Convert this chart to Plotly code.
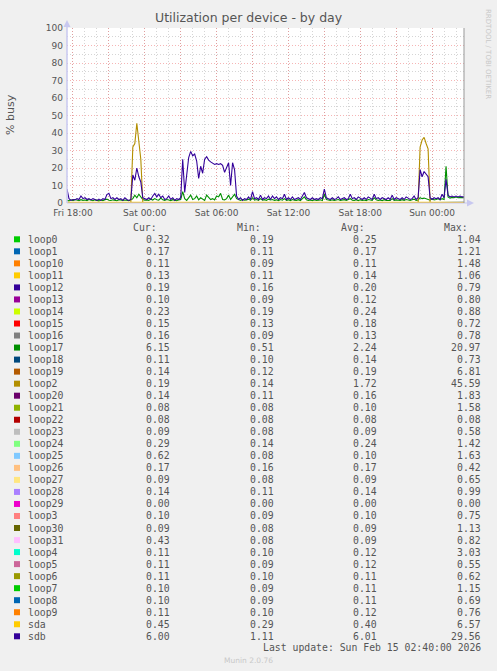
import pandas as pd
import plotly.graph_objects as go

# time axes (munin day graph, last update Sun Feb 15 02:40)
t_start = "2026-02-13 17:30"
t_end = "2026-02-15 02:40"
t_fine = pd.date_range(t_start, periods=200, freq="10min")
t_coarse = pd.date_range(t_start, t_end, periods=12)

x_tickvals = ["2026-02-13 18:00", "2026-02-13 21:00", "2026-02-14 00:00", "2026-02-14 03:00",
              "2026-02-14 06:00", "2026-02-14 09:00", "2026-02-14 12:00", "2026-02-14 15:00",
              "2026-02-14 18:00", "2026-02-14 21:00", "2026-02-15 00:00"]
x_ticktext = ["Fri 18:00", "", "Sat 00:00", "", "Sat 06:00", "", "Sat 12:00", "",
              "Sat 18:00", "", "Sun 00:00"]

names = ["loop0", "loop1", "loop10", "loop11", "loop12", "loop13", "loop14", "loop15",
         "loop16", "loop17", "loop18", "loop19", "loop2", "loop20", "loop21", "loop22",
         "loop23", "loop24", "loop25", "loop26", "loop27", "loop28", "loop29", "loop3",
         "loop30", "loop31", "loop4", "loop5", "loop6", "loop7", "loop8", "loop9", "sda", "sdb"]
colors = ["#00CC00", "#0066B3", "#FF8000", "#FFCC00", "#330099", "#990099", "#CCFF00", "#FF0000",
          "#808080", "#008F00", "#00487D", "#B35A00", "#B38F00", "#6B006B", "#8FB300", "#B30000",
          "#BEBEBE", "#80FF80", "#80C9FF", "#FFC080", "#FFE680", "#AA80FF", "#EE00CC", "#FF8080",
          "#666600", "#FFBFFF", "#00FFCC", "#CC6699", "#999900", "#00CC00", "#0066B3", "#FF8000",
          "#FFCC00", "#330099"]
cur_vals = [0.32, 0.17, 0.11, 0.13, 0.19, 0.10, 0.23, 0.15, 0.16, 6.15, 0.11, 0.14, 0.19, 0.14,
            0.08, 0.08, 0.09, 0.29, 0.62, 0.17, 0.09, 0.14, 0.00, 0.10, 0.09, 0.43, 0.11, 0.11,
            0.11, 0.10, 0.10, 0.11, 0.45, 6.00]
min_vals = [0.19, 0.11, 0.09, 0.11, 0.16, 0.09, 0.19, 0.13, 0.09, 0.51, 0.10, 0.12, 0.14, 0.11,
            0.08, 0.08, 0.08, 0.14, 0.08, 0.16, 0.08, 0.11, 0.00, 0.09, 0.08, 0.08, 0.10, 0.09,
            0.10, 0.09, 0.09, 0.10, 0.29, 1.11]
avg_vals = [0.25, 0.17, 0.11, 0.14, 0.20, 0.12, 0.24, 0.18, 0.13, 2.24, 0.14, 0.19, 1.72, 0.16,
            0.10, 0.08, 0.09, 0.24, 0.10, 0.17, 0.09, 0.14, 0.00, 0.10, 0.09, 0.09, 0.12, 0.12,
            0.11, 0.11, 0.11, 0.12, 0.40, 6.01]
max_vals = [1.04, 1.21, 1.48, 1.06, 0.79, 0.80, 0.88, 0.72, 0.78, 20.97, 0.73, 6.81, 45.59, 1.83,
            1.58, 0.08, 0.58, 1.42, 1.63, 0.42, 0.65, 0.99, 0.00, 0.75, 1.13, 0.82, 3.03, 0.55,
            0.62, 1.15, 0.69, 0.76, 6.57, 29.56]

# busy series, 10 minute samples
sdb = [8, 2.5, 1.5, 2, 1.8, 2.5, 2, 4, 2.5, 3,
       2, 2.5, 1.8, 2.5, 2, 1.5, 2.2, 1.5, 2.5, 2,
       4.8, 5.5, 2.5, 3, 2, 3, 2, 2.5, 1.5, 3,
       2, 1.5, 2, 16, 13, 20, 15, 12, 3, 2.5,
       2, 3, 2, 4, 5.5, 3.5, 5, 3, 4, 2,
       2.5, 4, 2, 3, 1.5, 2.5, 2, 3, 25, 6,
       17, 26, 29.5, 27, 28, 24, 14, 21, 17, 25,
       26.5, 24.5, 23.5, 22.5, 22, 22.5, 22, 22.5, 21.5, 17.5,
       20, 23, 10, 23, 19, 4, 2, 3, 1.5, 2.5,
       2, 3.5, 2, 6.5, 2.5, 3, 2, 4.5, 2, 3,
       2.5, 4, 2, 4, 2.5, 3.5, 2, 3, 2.5, 5,
       2, 3, 2, 3.5, 2, 2.5, 3, 2, 4, 6,
       3, 2.5, 2, 3, 2, 2.5, 2, 3, 2.5, 8,
       3, 2.5, 2, 3, 2, 2.5, 3.5, 2, 2.5, 3,
       2, 2.5, 5, 2.5, 3, 2, 3.5, 2.5, 2, 3,
       2, 3.5, 2.5, 2, 5, 2.5, 3, 2, 3, 2.5,
       2, 3, 2, 4.5, 2, 3, 2.5, 2, 3, 2,
       3.5, 2.5, 2, 2.5, 4, 2, 3, 19, 15, 18,
       16.5, 15, 3, 2, 3, 2.5, 3, 2, 5, 3,
       13.5, 4.5, 3.5, 4, 3.5, 4, 3.5, 4, 3.5, 3.5]

loop2 = [0.18, 0.16, 0.15, 0.17, 0.15, 0.16, 0.14, 0.17, 0.15, 0.16,
         0.15, 0.17, 0.16, 0.14, 0.15, 0.16, 0.15, 0.17, 0.14, 0.16,
         0.16, 0.15, 0.17, 0.15, 0.14, 0.16, 0.15, 0.17, 0.16, 0.15,
         0.14, 0.16, 0.2, 32, 34, 45.59, 33, 25, 0.3, 0.18,
         0.16, 0.15, 0.17, 0.15, 0.16, 0.14, 0.17, 0.15, 0.16, 0.15,
         0.17, 0.16, 0.14, 0.15, 0.16, 0.15, 0.17, 0.14, 0.16, 0.15,
         0.16, 0.15, 0.17, 0.15, 0.14, 0.16, 0.15, 0.17, 0.16, 0.15,
         0.14, 0.16, 0.15, 0.17, 0.15, 0.16, 0.14, 0.17, 0.15, 0.16,
         0.15, 0.17, 0.16, 0.14, 0.15, 0.16, 0.15, 0.17, 0.14, 0.16,
         0.16, 0.15, 0.17, 0.15, 0.14, 0.16, 0.15, 0.17, 0.16, 0.15,
         0.14, 0.16, 0.15, 0.17, 0.15, 0.16, 0.14, 0.17, 0.15, 0.16,
         0.15, 0.17, 0.16, 0.14, 0.15, 0.16, 0.15, 0.17, 0.14, 0.16,
         0.16, 0.15, 0.17, 0.15, 0.14, 0.16, 0.15, 0.17, 0.16, 0.15,
         0.14, 0.16, 0.15, 0.17, 0.15, 0.16, 0.14, 0.17, 0.15, 0.16,
         0.15, 0.17, 0.16, 0.14, 0.15, 0.16, 0.15, 0.17, 0.14, 0.16,
         0.16, 0.15, 0.17, 0.15, 0.14, 0.16, 0.15, 0.17, 0.16, 0.15,
         0.14, 0.16, 0.15, 0.17, 0.15, 0.16, 0.14, 0.17, 0.15, 0.16,
         0.16, 0.15, 0.17, 0.15, 0.14, 0.16, 0.2, 32, 36, 37.5,
         34, 31, 0.3, 0.2, 0.18, 0.16, 0.17, 0.15, 0.19, 0.17,
         0.18, 0.16, 0.17, 0.19, 0.18, 0.2, 0.17, 0.19, 0.18, 0.19]

loop17 = [1.5, 1.2, 1.8, 1.4, 2.0, 1.6, 1.3, 1.9, 1.5, 1.7,
          1.4, 2.0, 1.6, 1.3, 1.8, 1.5, 1.2, 1.7, 1.4, 1.9,
          2.2, 1.6, 1.4, 1.8, 1.5, 1.3, 1.9, 1.6, 1.4, 1.7,
          1.5, 1.3, 1.8, 2.5, 4.5, 3.0, 5.0, 3.5, 2.0, 1.6,
          1.8, 1.5, 2.2, 1.7, 2.5, 1.9, 1.6, 2.8, 1.8, 1.5,
          2.0, 1.7, 1.4, 1.9, 1.6, 1.3, 1.8, 2.0, 6.5, 2.5,
          1.5, 3.0, 4.5, 2.0, 2.5, 4.0, 1.8, 3.0, 2.2, 1.5,
          4.5, 3.5, 2.0, 2.5, 1.8, 4.0, 3.5, 5.5, 2.0, 1.8,
          2.5, 4.5, 2.0, 3.5, 5.0, 2.5, 1.8, 1.5, 2.0, 1.6,
          1.8, 2.2, 1.5, 3.0, 1.7, 2.0, 1.5, 2.5, 1.6, 1.9,
          1.5, 2.2, 1.7, 2.0, 1.5, 1.8, 1.4, 2.0, 1.6, 2.5,
          1.5, 1.8, 1.4, 2.0, 1.6, 1.5, 1.9, 1.4, 2.5, 3.5,
          1.8, 1.5, 1.7, 1.4, 1.9, 1.5, 1.6, 1.8, 1.4, 5.0,
          2.0, 1.6, 1.4, 1.8, 1.5, 1.7, 2.0, 1.5, 1.6, 1.9,
          1.5, 1.8, 2.5, 1.6, 1.5, 1.9, 1.4, 1.8, 1.5, 1.7,
          1.4, 2.0, 1.6, 1.5, 3.0, 1.8, 1.5, 1.7, 1.4, 1.9,
          1.5, 1.6, 1.4, 2.5, 1.5, 1.8, 1.6, 1.4, 1.9, 1.5,
          2.0, 1.6, 1.4, 1.8, 2.2, 1.5, 1.7, 3.0, 2.5, 2.8,
          2.5, 2.2, 1.6, 2.5, 1.8, 2.0, 2.5, 1.8, 2.5, 2.0,
          20.97, 3.5, 2.8, 3.2, 3.0, 3.4, 3.0, 3.2, 3.0, 3.0]

# quiet devices, 3 hour samples
loop0 = [0.25, 0.22, 0.24, 0.21, 0.28, 0.23, 0.26, 0.22, 0.25, 0.24, 0.27, 0.32]
loop1 = [0.17, 0.15, 0.18, 0.14, 0.19, 0.16, 0.18, 0.15, 0.17, 0.16, 0.18, 0.17]
loop10 = [0.11, 0.10, 0.12, 0.10, 0.11, 0.10, 0.12, 0.11, 0.10, 0.11, 0.12, 0.11]
loop11 = [0.14, 0.13, 0.15, 0.12, 0.14, 0.13, 0.15, 0.14, 0.13, 0.14, 0.15, 0.13]
loop12 = [0.20, 0.19, 0.21, 0.18, 0.20, 0.19, 0.21, 0.20, 0.19, 0.20, 0.21, 0.19]
loop13 = [0.12, 0.11, 0.13, 0.10, 0.12, 0.11, 0.13, 0.12, 0.11, 0.12, 0.13, 0.10]
loop14 = [0.24, 0.22, 0.25, 0.21, 0.24, 0.23, 0.25, 0.24, 0.22, 0.24, 0.25, 0.23]
loop15 = [0.18, 0.17, 0.19, 0.16, 0.18, 0.17, 0.19, 0.18, 0.17, 0.18, 0.19, 0.15]
loop16 = [0.13, 0.12, 0.14, 0.11, 0.13, 0.12, 0.14, 0.13, 0.12, 0.13, 0.14, 0.16]
loop18 = [0.14, 0.13, 0.15, 0.12, 0.14, 0.13, 0.15, 0.14, 0.13, 0.14, 0.15, 0.11]
loop19 = [0.18, 0.17, 0.20, 0.16, 0.19, 0.18, 0.20, 0.19, 0.18, 0.19, 0.20, 0.14]
loop20 = [0.16, 0.15, 0.17, 0.14, 0.16, 0.15, 0.17, 0.16, 0.15, 0.16, 0.17, 0.14]
loop21 = [0.10, 0.09, 0.11, 0.09, 0.10, 0.09, 0.11, 0.10, 0.09, 0.10, 0.11, 0.08]
loop22 = [0.08, 0.08, 0.08, 0.08, 0.08, 0.08, 0.08, 0.08, 0.08, 0.08, 0.08, 0.08]
loop23 = [0.09, 0.08, 0.09, 0.09, 0.10, 0.09, 0.09, 0.08, 0.09, 0.09, 0.10, 0.09]
loop24 = [0.24, 0.20, 0.25, 0.22, 0.26, 0.23, 0.25, 0.22, 0.24, 0.23, 0.26, 0.29]
loop25 = [0.10, 0.09, 0.10, 0.09, 0.11, 0.09, 0.10, 0.09, 0.10, 0.09, 0.11, 0.62]
loop26 = [0.17, 0.16, 0.17, 0.17, 0.18, 0.16, 0.17, 0.17, 0.18, 0.16, 0.17, 0.17]
loop27 = [0.09, 0.08, 0.09, 0.09, 0.10, 0.09, 0.09, 0.08, 0.09, 0.09, 0.10, 0.09]
loop28 = [0.14, 0.13, 0.15, 0.12, 0.14, 0.13, 0.15, 0.14, 0.13, 0.14, 0.15, 0.14]
loop29 = [0.00, 0.00, 0.00, 0.00, 0.00, 0.00, 0.00, 0.00, 0.00, 0.00, 0.00, 0.00]
loop3 = [0.10, 0.09, 0.11, 0.10, 0.10, 0.09, 0.11, 0.10, 0.10, 0.09, 0.11, 0.10]
loop30 = [0.09, 0.08, 0.09, 0.09, 0.10, 0.09, 0.09, 0.08, 0.09, 0.09, 0.10, 0.09]
loop31 = [0.09, 0.08, 0.09, 0.09, 0.10, 0.08, 0.09, 0.08, 0.09, 0.09, 0.10, 0.43]
loop4 = [0.12, 0.11, 0.13, 0.11, 0.12, 0.11, 0.13, 0.12, 0.11, 0.12, 0.13, 0.11]
loop5 = [0.12, 0.11, 0.13, 0.10, 0.12, 0.11, 0.13, 0.12, 0.11, 0.12, 0.13, 0.11]
loop6 = [0.11, 0.10, 0.12, 0.10, 0.11, 0.10, 0.12, 0.11, 0.10, 0.11, 0.12, 0.11]
loop7 = [0.11, 0.10, 0.12, 0.10, 0.11, 0.10, 0.12, 0.11, 0.10, 0.11, 0.12, 0.10]
loop8 = [0.11, 0.10, 0.12, 0.10, 0.11, 0.10, 0.12, 0.11, 0.10, 0.11, 0.12, 0.10]
loop9 = [0.12, 0.11, 0.13, 0.11, 0.12, 0.11, 0.13, 0.12, 0.11, 0.12, 0.13, 0.11]
sda = [0.40, 0.35, 0.42, 0.33, 0.45, 0.38, 0.44, 0.36, 0.41, 0.39, 0.43, 0.45]

series = {
    "loop0": loop0, "loop1": loop1, "loop10": loop10, "loop11": loop11, "loop12": loop12,
    "loop13": loop13, "loop14": loop14, "loop15": loop15, "loop16": loop16, "loop17": loop17,
    "loop18": loop18, "loop19": loop19, "loop2": loop2, "loop20": loop20, "loop21": loop21,
    "loop22": loop22, "loop23": loop23, "loop24": loop24, "loop25": loop25, "loop26": loop26,
    "loop27": loop27, "loop28": loop28, "loop29": loop29, "loop3": loop3, "loop30": loop30,
    "loop31": loop31, "loop4": loop4, "loop5": loop5, "loop6": loop6, "loop7": loop7,
    "loop8": loop8, "loop9": loop9, "sda": sda, "sdb": sdb,
}

# plot area in pixels
L, R, T, B = 67, 464, 28, 203
W, H = 497, 671


def px(x):
    return (x - L) / (R - L)


def py(y):
    return (B - y) / (B - T)


RED = "rgba(235,90,90,0.45)"
GREY = "rgba(150,150,150,0.40)"
TXT = "#555555"
MONO = "DejaVu Sans Mono"

fig = go.Figure()
for name, col in zip(names, colors):
    ys = series[name]
    xs = t_fine if len(ys) == len(t_fine) else t_coarse
    fig.add_trace(go.Scatter(x=xs, y=ys, mode="lines", name=name,
                             line=dict(color=col, width=1.1), hoverinfo="x+y+name"))

fig.update_layout(
    width=W, height=H,
    margin=dict(l=L, r=W - R, t=T, b=H - B),
    paper_bgcolor="#F0F0F0", plot_bgcolor="white",
    showlegend=False,
    font=dict(family="DejaVu Sans", size=9, color=TXT),
)
fig.update_xaxes(
    range=[t_start, t_end], tickmode="array", tickvals=x_tickvals, ticktext=x_ticktext,
    showgrid=True, gridcolor=RED, griddash="1px,2px", gridwidth=1,
    showline=False, zeroline=False, ticks="", ticklabelstandoff=3,
    tickfont=dict(size=9, color=TXT),
    minor=dict(dtick=3600000, tick0="2026-02-13 18:00", showgrid=True,
               gridcolor=GREY, griddash="1px,2px", gridwidth=1),
)
fig.update_yaxes(
    range=[0, 100], tickmode="linear", tick0=0, dtick=10,
    showgrid=True, gridcolor=RED, griddash="1px,2px", gridwidth=1,
    showline=False, zeroline=False, ticks="", ticklabelstandoff=3,
    tickfont=dict(size=9, color=TXT),
    minor=dict(dtick=5, showgrid=True, gridcolor=GREY, griddash="1px,2px", gridwidth=1),
)

AX = "#C8C8F0"
shapes = [
    dict(type="line", xref="paper", yref="paper", x0=0, x1=0, y0=0, y1=py(24),
         line=dict(color=AX, width=1.5)),
    dict(type="line", xref="paper", yref="paper", x0=0, x1=px(469), y0=0, y1=0,
         line=dict(color=AX, width=1)),
    dict(type="path", xref="paper", yref="paper",
         path=f"M {px(63.5)},{py(27)} L {px(67)},{py(20)} L {px(70.5)},{py(27)} Z",
         fillcolor=AX, line=dict(width=0)),
    dict(type="path", xref="paper", yref="paper",
         path=f"M {px(467)},{py(199.5)} L {px(474)},{py(203)} L {px(467)},{py(206.5)} Z",
         fillcolor=AX, line=dict(width=0)),
    dict(type="line", xref="paper", yref="paper", x0=1, x1=1, y0=0, y1=1,
         line=dict(color="#999999", width=1)),
]

ann = [
    dict(text="Utilization per device - by day", x=px(248.5), y=py(18), xref="paper", yref="paper",
         showarrow=False, font=dict(size=12.5, color=TXT), xanchor="center", yanchor="middle"),
    dict(text="% busy", x=px(10), y=py(115), xref="paper", yref="paper", textangle=-90,
         showarrow=False, font=dict(size=11, color=TXT), xanchor="center", yanchor="middle"),
    dict(text="RRDTOOL / TOBI OETIKER", x=px(488), y=py(54), xref="paper", yref="paper",
         textangle=90, showarrow=False, font=dict(size=7, color="#C8C8C8"),
         xanchor="center", yanchor="middle"),
]

# legend table
head_y = 227
for label, xr in zip(["Cur:", "Min:", "Avg:", "Max:"], [159, 263, 367, 470]):
    ann.append(dict(text=label, x=px(xr), y=py(head_y), xref="paper", yref="paper",
                    showarrow=False, font=dict(family=MONO, size=9.8, color=TXT),
                    xanchor="right", yanchor="middle"))

for k, name in enumerate(names):
    yy = 239.3 + 12.03 * k
    shapes.append(dict(type="rect", xref="paper", yref="paper",
                       x0=px(14), x1=px(20), y0=py(yy - 3), y1=py(yy + 3),
                       fillcolor=colors[k], line=dict(width=0)))
    ann.append(dict(text=name, x=px(25.5), y=py(yy), xref="paper", yref="paper",
                    showarrow=False, font=dict(family=MONO, size=9.8, color=TXT),
                    xanchor="left", yanchor="middle"))
    for vals, xr in zip([cur_vals, min_vals, avg_vals, max_vals], [172, 276, 379, 483]):
        ann.append(dict(text=f"{vals[k]:.2f}", x=px(xr), y=py(yy), xref="paper", yref="paper",
                        showarrow=False, font=dict(family=MONO, size=9.8, color=TXT),
                        xanchor="right", yanchor="middle"))

ann.append(dict(text="Last update: Sun Feb 15 02:40:00 2026", x=px(483), y=py(647),
                xref="paper", yref="paper", showarrow=False,
                font=dict(family=MONO, size=9.8, color=TXT), xanchor="right", yanchor="middle"))
ann.append(dict(text="Munin 2.0.76", x=px(248), y=py(660), xref="paper", yref="paper",
                showarrow=False, font=dict(size=7.5, color="#C8C8C8"),
                xanchor="center", yanchor="middle"))

fig.update_layout(shapes=shapes, annotations=ann)
# drop the browser's default body margin so the figure sits at the page corner
fig.write_html("out.html", config={"displayModeBar": False},
               post_script="document.body.style.margin='0';")
